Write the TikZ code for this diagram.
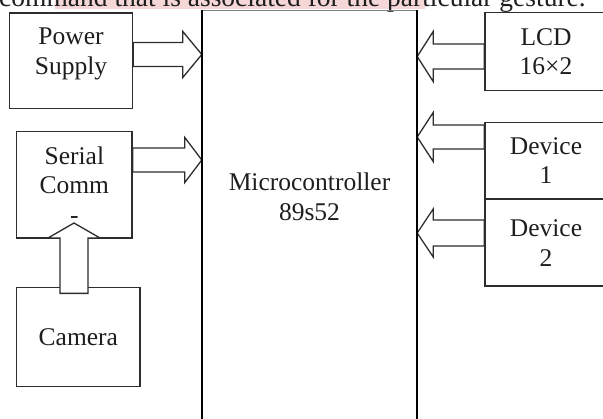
\documentclass[tikz,border=0pt]{standalone}
\usepackage{fontspec}
\setmainfont{Liberation Serif}
\usepackage{tikz}
\usetikzlibrary{positioning, calc}
\definecolor{edge}{RGB}{45, 45, 45}
\definecolor{ink}{RGB}{30, 30, 30}
\definecolor{markbg}{RGB}{245, 215, 215}

% block arrow: tail, tip, shaft half, head half, head length (signed)
\newcommand{\blockarr}[5]{%
  \draw[blk] ($(#1)+(0,#3)$) -- ($(#2)+(#5,#3)$) -- ($(#2)+(#5,#4)$) -- (#2)
    -- ($(#2)+(#5,-#4)$) -- ($(#2)+(#5,-#3)$) -- ($(#1)+(0,-#3)$) -- cycle;}

\begin{document}
\begin{tikzpicture}[
          x=1pt, y=-1pt,
          box/.style={draw=edge, line width=1.4pt, inner sep=0pt, align=center,
                      text=ink, font=\fontsize{25.5}{29.5}\selectfont},
          lbl/.style={inner sep=0pt, align=center, text=ink,
                      font=\fontsize{25.5}{29.5}\selectfont},
          blk/.style={draw=edge, fill=white, line width=1.3pt, line join=miter},
        ]
        \useasboundingbox (0,0) rectangle (603,419);
        \clip (0,0) rectangle (603,419);
        % cut-off line of the page above
        \fill[markbg] (55,-2) rectangle (425,9);
        \node[anchor=base west, inner sep=0pt, text=ink, font=\fontsize{27.5}{30}\selectfont] (caption) at (-1,6.5)
          {command that is associated for the particular gesture.};

        \node[box, minimum width=123pt, minimum height=95.5pt] (power) at (71,60.75) {};
        \node[lbl] (powertxt) at ($(power.center)+(0,-7)$) {Power\\Supply};
        \node[box, minimum width=115.3pt, minimum height=106.3pt] (serial) at (74.35,184.85) {Serial\\Comm\\-};
        \node[box, minimum width=123.3pt, minimum height=99pt, below=48pt of serial.south west, anchor=north west] (camera) {Camera};

        \node[box, minimum width=122pt, minimum height=78pt] (lcd) at (546,51.7) {LCD\\16×2};
        \node[box, minimum width=122pt, minimum height=75.6pt] (dev1) at (546,160.5) {Device\\1};
        \node[box, minimum width=122pt, minimum height=86.4pt, below=0pt of dev1] (dev2) {Device\\2};

        \node[minimum width=215pt, minimum height=430pt, anchor=north] (mcu) at (309.5,10) {};
        \node[lbl] (mcutxt) at (309.5,197) {Microcontroller\\89s52};

        % arrows into the controller
        \blockarr{power.east |- 0,54.5}{mcu.west |- 0,54.5}{12}{23}{-19}
        \blockarr{serial.east |- 0,160}{mcu.west |- 0,160}{12}{22.5}{-17}
        \blockarr{lcd.west |- 0,56.5}{mcu.east |- 0,56.5}{12.5}{25}{16}
        \blockarr{dev1.west |- 0,137}{mcu.east |- 0,137}{12}{24.5}{16}
        \blockarr{dev2.west |- 0,233}{mcu.east |- 0,233}{13}{24}{16}

        % camera up into serial
        \coordinate (camtail) at (camera.north -| 74,0);
        \coordinate (camtip) at (74,223);
        \draw[blk] ($(camtail)+(-14,6.7)$) -- ($(camtip)+(-14,15)$) -- ($(camtip)+(-26,15)$) -- (camtip)
          -- ($(camtip)+(26,15)$) -- ($(camtip)+(14,15)$) -- ($(camtail)+(14,6.7)$) -- cycle;

        \draw[gray, line width=0.8pt] (mcu.north west) -- (mcu.north east);
        \draw[line width=2.2pt] (mcu.north west) -- (mcu.south west);
        \draw[line width=2.2pt] (mcu.north east) -- (mcu.south east);
      \end{tikzpicture}
\end{document}
